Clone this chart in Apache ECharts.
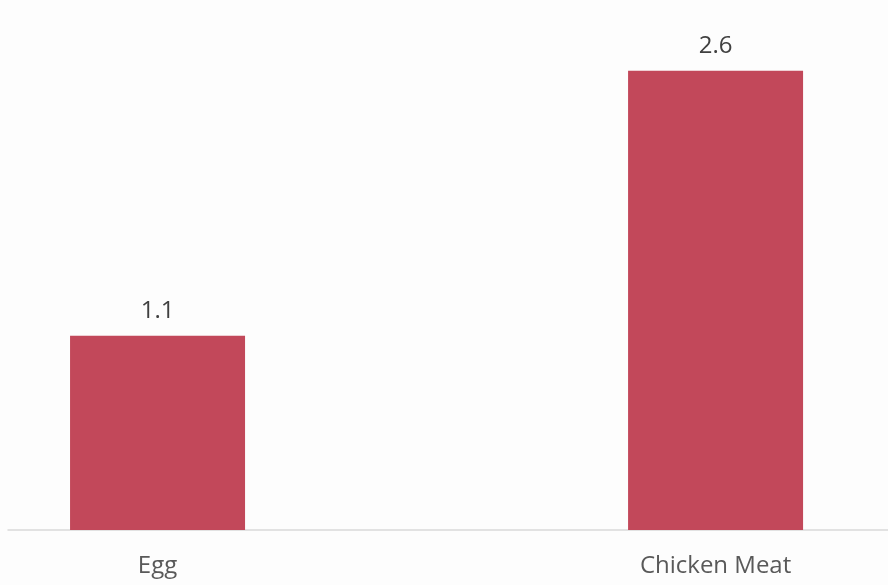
<!DOCTYPE html>
<html>
<head>
<meta charset="utf-8">
<script src="https://cdn.jsdelivr.net/npm/echarts@6/dist/echarts.min.js"></script>
<style>
html,body{margin:0;padding:0;background:#fdfdfd;}
#chart{width:888px;height:585px;}
</style>
</head>
<body>
<div id="chart"></div>
<script>
const categories = ['Egg', 'Chicken Meat'];
const values = [1.1, 2.6];
const positions = [0, 1];

const chart = echarts.init(document.getElementById('chart'), null, {renderer: 'canvas'});
chart.setOption({
  backgroundColor: '#fdfdfd',
  animation: false,
  grid: {left: 8, right: 0, top: -1, bottom: 55, containLabel: false},
  xAxis: {
    type: 'value',
    min: -0.268, max: 1.309,
    splitLine: {show: false},
    axisLine: {show: true, onZero: false, lineStyle: {color: '#d9d9d9', width: 1.5}},
    axisTick: {show: false},
    axisLabel: {
      customValues: positions,
      margin: 24, fontFamily: 'Open Sans', fontSize: 24, color: '#595959',
      formatter: v => categories[Math.round(v)] || ''
    }
  },
  yAxis: {
    type: 'value', min: 0, max: 3,
    show: false,
    splitLine: {show: false}
  },
  series: [{
    type: 'bar',
    data: positions.map((p, i) => [p, values[i]]),
    barWidth: 175,
    itemStyle: {color: '#c2485a'},
    label: {
      show: true, position: 'top', distance: 13,
      fontFamily: 'Open Sans', fontSize: 24, color: '#404040',
      formatter: p => p.value[1].toFixed(1)
    }
  }]
});
</script>
</body>
</html>
